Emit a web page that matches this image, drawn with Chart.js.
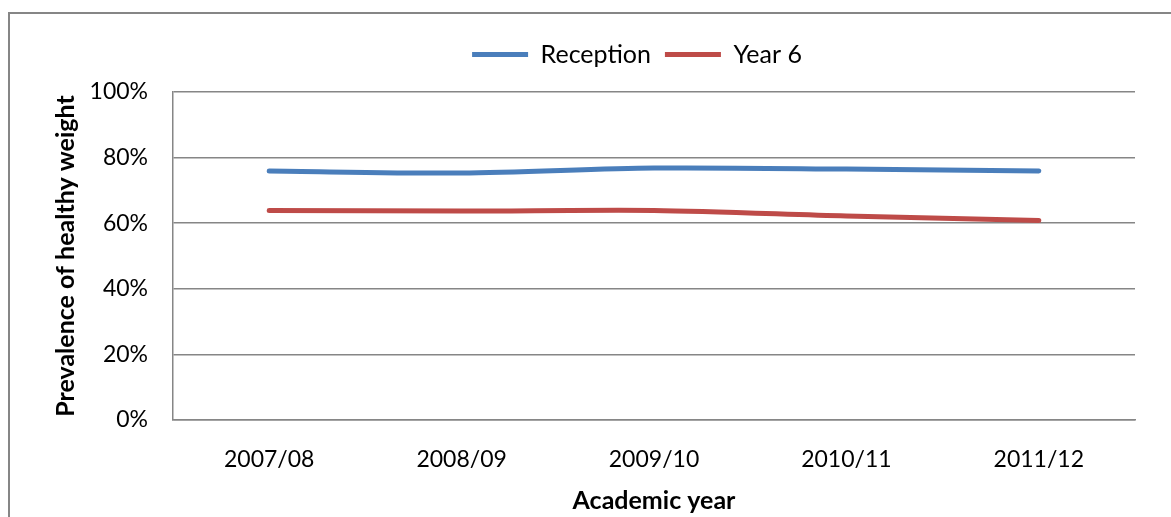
<!DOCTYPE html>
<html>
<head>
<meta charset="utf-8">
<style>
  html, body { margin: 0; padding: 0; background: #fff; overflow: hidden; }
  #frame {
    position: absolute; left: 8px; top: 12px;
    width: 1200px; height: 600px;
    border: 2px solid #868686;
  }
  #chart { position: absolute; left: 0; top: 0; }
</style>
</head>
<body>
<div id="frame"></div>
<canvas id="chart" width="1171" height="517"></canvas>

<script src="https://cdn.jsdelivr.net/npm/chart.js"></script>
<script>
// healthy weight prevalence by academic year, percent
const years = ['2007/08', '2008/09', '2009/10', '2010/11', '2011/12'];
const reception = [75.9, 75.3, 76.8, 76.5, 75.9];
const year6 = [63.9, 63.7, 63.9, 62.2, 60.8];
const yTicks = [0, 20, 40, 60, 80, 100];

const GRID = '#868686';
const FONT = 'Lato, "Open Sans", sans-serif';

// extra room under the legend, and a sideways nudge for it
const legendGap = 15;
const legendShift = 46;

const legendTweak = {
  id: 'legendTweak',
  beforeLayout(chart) {
    const lg = chart.legend;
    if (lg && !lg._wrapped) {
      const fit = lg.fit;
      lg.fit = function () {
        fit.call(this);
        this.height += legendGap;
      };
      lg._wrapped = true;
    }
  },
  afterLayout(chart) {
    const lg = chart.legend;
    if (lg) {
      lg.left += legendShift;
      lg.right += legendShift;
    }
  }
};

new Chart(document.getElementById('chart'), {
  type: 'line',
  data: {
    labels: years,
    datasets: [
      {
        label: 'Reception',
        data: reception,
        borderColor: '#4a7ebb',
        backgroundColor: '#4a7ebb',
        borderWidth: 5,
        tension: 0.3,
        pointRadius: 0,
        borderCapStyle: 'round'
      },
      {
        label: 'Year 6',
        data: year6,
        borderColor: '#be4b48',
        backgroundColor: '#be4b48',
        borderWidth: 5,
        tension: 0.3,
        pointRadius: 0,
        borderCapStyle: 'round'
      }
    ]
  },
  plugins: [legendTweak],
  options: {
    responsive: false,
    animation: false,
    layout: { padding: { left: 47, right: 36, top: 28, bottom: 0 } },
    plugins: {
      tooltip: { enabled: false },
      legend: {
        position: 'top',
        labels: {
          usePointStyle: true,
          pointStyle: 'line',
          pointStyleWidth: 56,
          padding: 14,
          color: '#000',
          font: { family: FONT, size: 25 }
        }
      }
    },
    scales: {
      x: {
        offset: true,
        afterFit: (scale) => { scale.height = 97; },
        grid: { display: false, drawTicks: false },
        border: { color: GRID, width: 1.5 },
        ticks: {
          padding: 26,
          color: '#000',
          font: { family: FONT, size: 23 }
        },
        title: {
          display: true,
          text: 'Academic year',
          color: '#000',
          padding: { top: 0, bottom: 1 },
          font: { family: FONT, size: 25, weight: 'bold' }
        }
      },
      y: {
        min: 0,
        max: 100,
        afterFit: (scale) => { scale.width = 126; },
        afterBuildTicks: (scale) => { scale.ticks = yTicks.map(v => ({ value: v })); },
        grid: { color: GRID, lineWidth: 1.5, drawTicks: false },
        border: { color: GRID, width: 1.5 },
        ticks: {
          padding: 25,
          color: '#000',
          font: { family: FONT, size: 23 },
          callback: (v) => v + '%'
        },
        title: {
          display: true,
          text: 'Prevalence of healthy weight',
          color: '#000',
          padding: { top: 4, bottom: 0 },
          font: { family: FONT, size: 25, weight: 'bold' }
        }
      }
    }
  }
});
</script>
</body>
</html>
